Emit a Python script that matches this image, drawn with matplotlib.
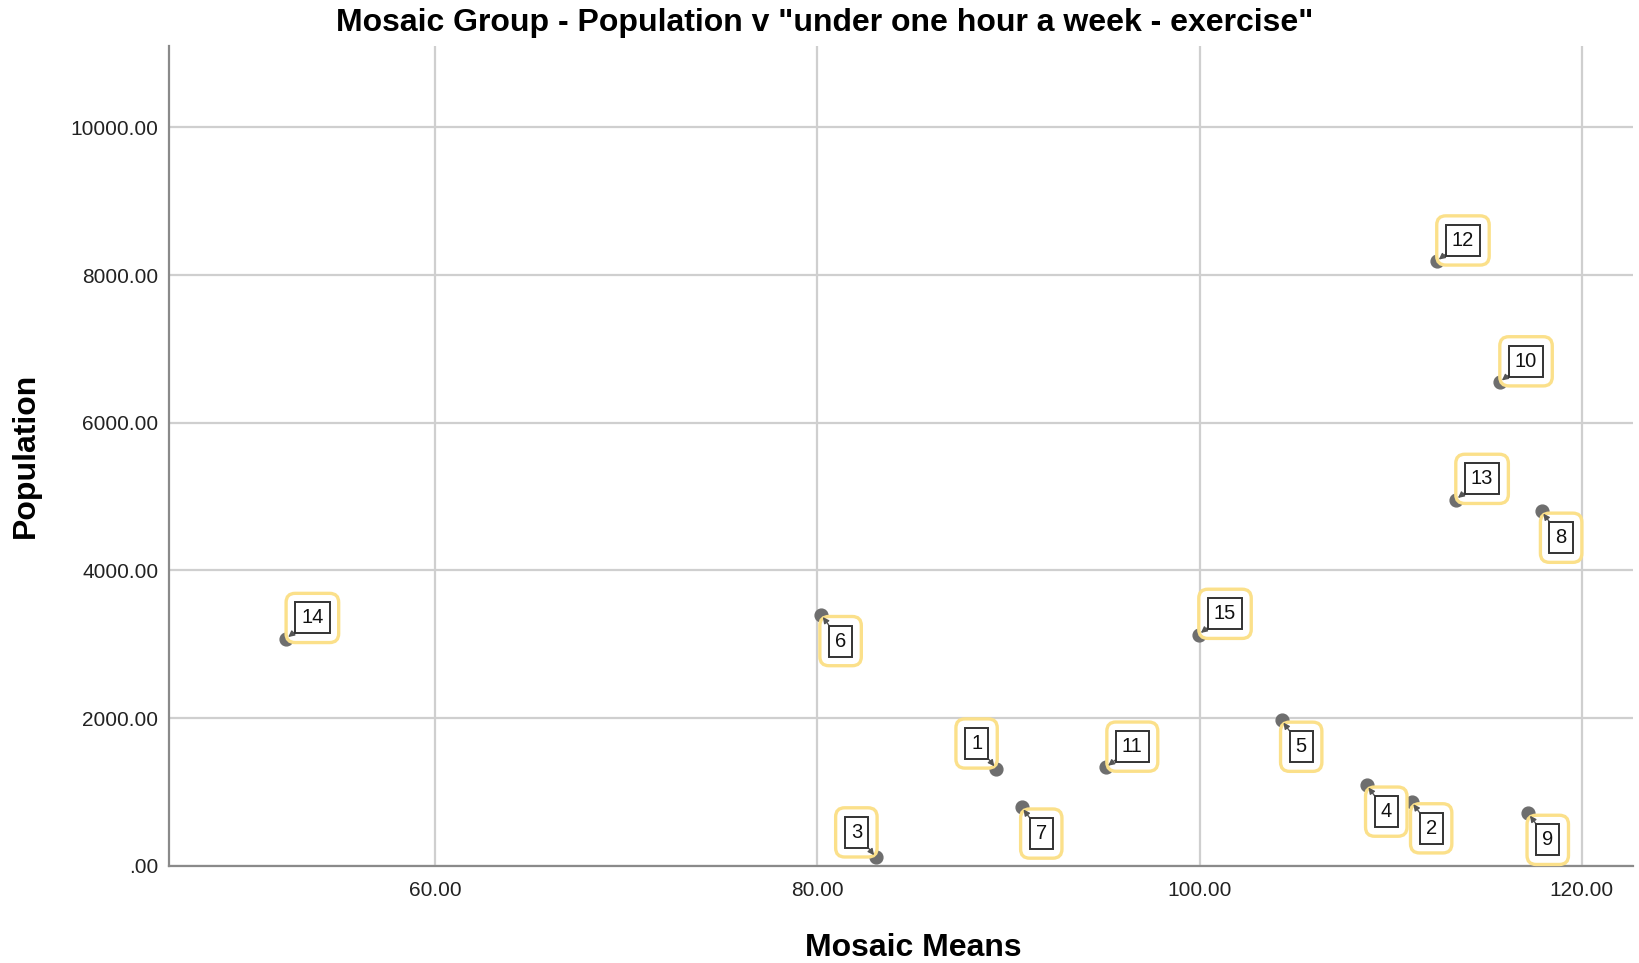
import matplotlib
matplotlib.use("Agg")
import matplotlib.pyplot as plt

plt.rcParams['font.family'] = ['Liberation Sans', 'DejaVu Sans']

labels = ["1", "2", "3", "4", "5", "6", "7", "8", "9", "10", "11", "12", "13", "14", "15"]
mosaic_means = [89.35, 111.1, 83.06, 108.75, 104.3, 80.2, 90.7, 117.9, 117.2, 115.7, 95.1, 112.4, 113.4, 52.2, 99.95]
population = [1317, 864, 113, 1090, 1969, 3400, 793, 4800, 708, 6550, 1331, 8187, 4958, 3074, 3130]
# label placement: 'ur' upper right, 'lr' lower right, 'ul' upper left
placement = ["ul", "lr", "ul", "lr", "lr", "lr", "lr", "lr", "lr", "ur", "ur", "ur", "ur", "ur", "ur"]

xticks = [60, 80, 100, 120]
yticks = [0, 2000, 4000, 6000, 8000, 10000]

fig = plt.figure(figsize=(16.4, 9.63), dpi=100)
ax = fig.add_axes([0.1033, 0.101, 0.8927, 0.851])

ax.set_xlim(46.1, 122.7)
ax.set_ylim(0, 11100)
ax.set_xticks(xticks)
ax.set_yticks(yticks)
ax.set_xticklabels([f"{v:.2f}" for v in xticks], fontsize=15)
ax.set_yticklabels([".00" if v == 0 else f"{v:.2f}" for v in yticks], fontsize=15)
ax.grid(True, color="#cfcfcf", linewidth=1.6)
ax.set_axisbelow(True)
for s in ["top", "right"]:
    ax.spines[s].set_visible(False)
for s in ["left", "bottom"]:
    ax.spines[s].set_color("#8a8a8a")
    ax.spines[s].set_linewidth(1.6)
ax.tick_params(length=0, colors="#222222")
ax.tick_params(axis="y", pad=8)
ax.tick_params(axis="x", pad=11)

ax.scatter(mosaic_means, population, s=85, color="#6e6e6e", zorder=3)

offs = {"ur": (19, 15), "lr": (14, -19), "ul": (-14, 18)}
for lab, x, y, p in zip(labels, mosaic_means, population, placement):
    dx, dy = offs[p]
    ax.annotate(lab, (x, y), xytext=(dx, dy), textcoords="offset points",
                ha="center", va="center", fontsize=14.5, color="none", zorder=4,
                bbox=dict(boxstyle="round,pad=0.75,rounding_size=0.45", fc="white",
                          ec="#fbe08a", lw=2.4))
    ax.annotate(lab, (x, y), xytext=(dx, dy), textcoords="offset points",
                ha="center", va="center", fontsize=14.5, color="#111111", zorder=5,
                bbox=dict(boxstyle="square,pad=0.3", fc="white", ec="#333333", lw=1.4),
                arrowprops=dict(arrowstyle="-|>", color="#555555", lw=1.0,
                                shrinkA=0, shrinkB=2, mutation_scale=9))

fig.text(0.503, 0.976, 'Mosaic Group - Population v "under one hour a week - exercise"',
         ha="center", va="center", fontsize=23, fontweight="bold")
fig.text(0.016, 0.527, "Population", rotation=90, ha="center", va="center",
         fontsize=23, fontweight="bold")
fig.text(0.557, 0.016, "Mosaic Means", ha="center", va="center",
         fontsize=23, fontweight="bold")

fig.savefig("out.png", dpi=100)
